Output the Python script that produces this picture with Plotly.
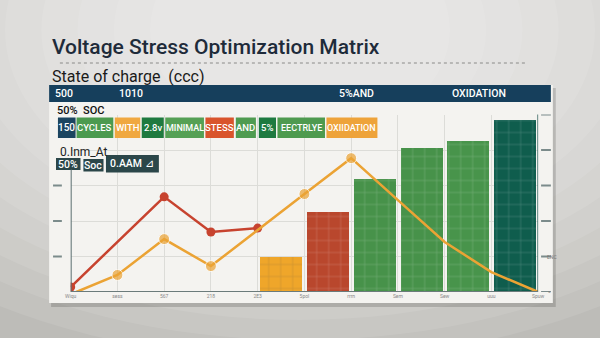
import plotly.graph_objects as go

# ---------------- data ----------------
tick_pos = list(range(11))
tick_labels = ["Wiqu", "sess", "567", "218", "2E3", "5pol", "rrrn", "Sem", "Sew", "uuu", "Spuw"]

bar_x = [4.5, 5.5, 6.5, 7.5, 8.5, 9.5]
bar_vals = [1.01, 2.28, 3.21, 4.08, 4.28, 4.85]

red_x = [0, 2, 3, 4]
red_y = [0.14, 2.68, 1.69, 1.80]

orange_x = [0.12, 1, 2, 3, 5, 6, 7, 8, 9, 10]
orange_y = [0.0, 0.48, 1.49, 0.73, 2.76, 3.77, 2.59, 1.41, 0.56, 0.0]

header_labels = ["500", "1010", "5%AND", "OXIDATION"]
chip_labels = ["150", "CYCLES", "WITH", "2.8v", "MINIMAL", "STESS", "AND", "5%", "EECTRLYE", "OXIIDATION"]
chip2_labels = ["50%", "Soc", "0.AAM ⊿"]

# ---------------- styles / layout helpers ----------------
W, H = 600, 338
def X(px):
    return px / W
def Y(py):
    return 1 - py / H

bar_colors = ["#efa62a", "#b9472d", "#47924a", "#47924a", "#48944b", "#0f5d4d"]
orange_marker_sizes = [0, 11, 11, 11, 11, 11, 0, 0, 0, 0]
chip_colors = ["#1c4560", "#4b9a4f", "#f0a840", "#1f7a3f", "#55a055", "#d9542c",
               "#4f9b50", "#1e7a40", "#4e9a4f", "#eea33a"]
chip_x = [(53, 71), (72, 109.5), (111, 137), (138.5, 161), (162.5, 202), (203.5, 232.5),
          (234.5, 255), (258, 275.5), (277, 325.5), (327, 379)]
chip_font = [10, 9.5, 9.5, 9.5, 9, 9.5, 9.5, 9.5, 9, 9]
chip2_geom = [(51, 76, 158, 170), (79, 99.5, 159, 171.5), (102, 156, 155, 172.5)]
header_x = [48, 113, 338, 453]

FONT = "Roboto, sans-serif"

fig = go.Figure()

fig.add_trace(go.Bar(
    x=bar_x, y=bar_vals, width=0.9,
    marker=dict(color=bar_colors, line=dict(width=0),
                pattern=dict(shape="+", fgcolor="white", fgopacity=0.28, size=12, solidity=0.08)),
    hoverinfo="skip"))

fig.add_trace(go.Scatter(
    x=red_x, y=red_y, mode="lines+markers",
    line=dict(color="#c7432f", width=2.5),
    marker=dict(color="#c7432f", size=9), hoverinfo="skip"))

fig.add_trace(go.Scatter(
    x=orange_x, y=orange_y, mode="lines+markers",
    line=dict(color="#eba334", width=2.5),
    marker=dict(color="#eba334", size=orange_marker_sizes), hoverinfo="skip"))

shapes = []
# background vignette
n = 12
for k in range(n):
    rx = 560 - k * 37
    ry = 330 - k * 20
    cx, cy = 300, 30
    shapes.append(dict(type="circle", xref="paper", yref="paper", layer="below",
                       x0=X(cx - rx), x1=X(cx + rx), y0=Y(cy + ry), y1=Y(cy - ry),
                       fillcolor="rgba(255,255,255,0.09)", line=dict(width=0)))
# card shadow and card
shapes.append(dict(type="rect", xref="paper", yref="paper", layer="below",
                   x0=X(46), x1=X(561), y0=Y(307), y1=Y(88),
                   fillcolor="rgba(60,60,55,0.22)", line=dict(width=0)))
shapes.append(dict(type="rect", xref="paper", yref="paper", layer="below",
                   x0=X(44), x1=X(558), y0=Y(303), y1=Y(85),
                   fillcolor="#f4f3f0", line=dict(width=0)))
# header bar
shapes.append(dict(type="rect", xref="paper", yref="paper", layer="above",
                   x0=X(44), x1=X(556), y0=Y(102), y1=Y(85),
                   fillcolor="#163f5c", line=dict(width=0)))
# dotted rule under title
shapes.append(dict(type="line", xref="paper", yref="paper",
                   x0=X(55), x1=X(530), y0=Y(63), y1=Y(63),
                   line=dict(color="#8a8a88", width=1, dash="dot")))
# chips row 1
for (x0, x1), c in zip(chip_x, chip_colors):
    shapes.append(dict(type="rect", xref="paper", yref="paper", layer="above",
                       x0=X(x0), x1=X(x1), y0=Y(138), y1=Y(117.5),
                       fillcolor=c, line=dict(width=0)))
# chips row 2
for (x0, x1, y0, y1) in chip2_geom:
    shapes.append(dict(type="rect", xref="paper", yref="paper", layer="above",
                       x0=X(x0), x1=X(x1), y0=Y(y1), y1=Y(y0),
                       fillcolor="#2b4649", line=dict(width=0)))
# axis lines
shapes.append(dict(type="line", xref="x", yref="y", x0=0, x1=0, y0=0, y1=3.45,
                   line=dict(color="#5b6f70", width=2)))
shapes.append(dict(type="line", xref="x", yref="y", x0=10, x1=10, y0=0, y1=5.07,
                   line=dict(color="#2f5f5a", width=1.5)))
shapes.append(dict(type="line", xref="x", yref="y", x0=0, x1=10, y0=0, y1=0,
                   line=dict(color="#6b7b7b", width=2)))
# tick dashes
for v in [1, 2, 3]:
    shapes.append(dict(type="line", xref="paper", yref="y", x0=X(48), x1=X(57), y0=v, y1=v,
                       line=dict(color="#7b8b8b", width=2)))
for v in [0, 1, 2, 3, 4, 5]:
    shapes.append(dict(type="line", xref="paper", yref="y", x0=X(546), x1=X(556), y0=v, y1=v,
                       line=dict(color="#7b8b8b", width=2)))

annotations = []
def txt(t, px, py, size, color, family=FONT, xanchor="left", weight=None):
    f = dict(size=size, color=color, family=family)
    if weight:
        f["weight"] = weight
    annotations.append(dict(text=t, x=X(px), y=Y(py), xref="paper", yref="paper",
                            xanchor=xanchor, yanchor="middle", showarrow=False, font=f))

txt("Voltage Stress Optimization Matrix", 45, 47, 21, "#1e2b3a", weight=500)
txt("State of charge  (ccc)", 45, 76, 16, "#1a1a1a")
for t, hx in zip(header_labels, header_x):
    txt(t, hx, 94, 10.5, "white", weight=500)
txt("50%  SOC", 50, 110, 11, "#111111", weight=500)
for t, (x0, x1), fs in zip(chip_labels, chip_x, chip_font):
    txt(t, (x0 + x1) / 2, 128, fs, "white", xanchor="center", weight=500)
txt("0.Inm_At", 53, 152, 12, "#222222")
for t, (x0, x1, y0, y1) in zip(chip2_labels, chip2_geom):
    txt(t, (x0 + x1) / 2, (y0 + y1) / 2, 10.5, "white", xanchor="center", weight=500)
txt("ENC", 550, 257, 5, "#777777")
txt("=", 551, 292, 5, "#777777")

fig.update_layout(
    width=W, height=H, margin=dict(l=0, r=0, t=0, b=0),
    paper_bgcolor="#bdbcb8", plot_bgcolor="rgba(0,0,0,0)",
    showlegend=False, bargap=0,
    shapes=shapes, annotations=annotations,
    xaxis=dict(domain=[X(66), X(543)], range=[0, 10], tickvals=tick_pos, ticktext=tick_labels,
               tickfont=dict(size=5, color="#888888", family=FONT),
               showgrid=True, gridcolor="#dcdcd8", gridwidth=1, zeroline=False, showline=False,
               ticks="", fixedrange=True),
    yaxis=dict(domain=[Y(292), Y(114.5)], range=[0, 5], tickvals=[1, 2, 3, 4],
               showticklabels=False, showgrid=True, gridcolor="#dcdcd8", gridwidth=1,
               zeroline=False, showline=False, ticks="", fixedrange=True),
)

fig.write_html("out.html")
